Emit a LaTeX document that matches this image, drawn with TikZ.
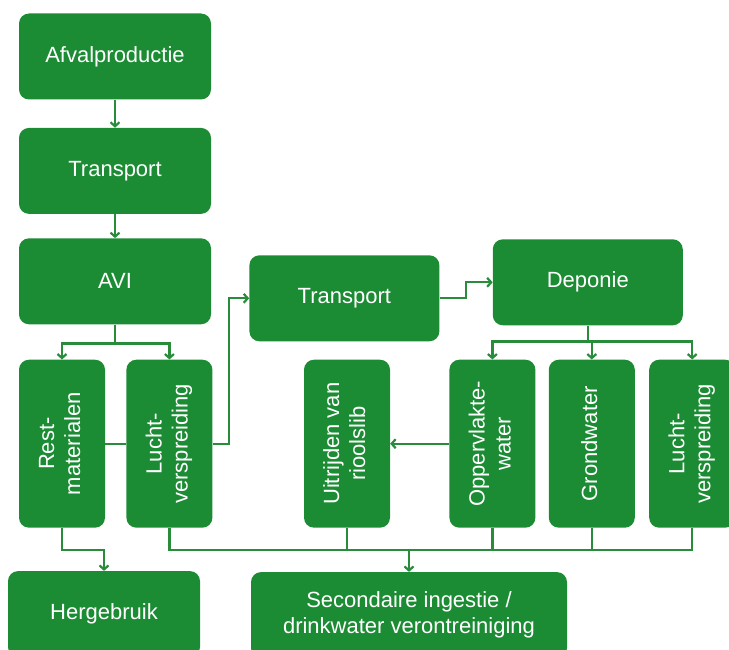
\documentclass[tikz,border=0pt]{standalone}
\usepackage{fontspec}
\setmainfont{Liberation Sans}
\usepackage{graphicx}
\usepackage{tikz}
\usetikzlibrary{positioning}
\usetikzlibrary{arrows.meta}
\definecolor{afvalgroen}{RGB}{28,140,52}
\definecolor{lijngroen}{RGB}{40,140,58}
\newcommand{\vtekst}[1]{\rotatebox{90}{\begin{tabular}{@{}c@{}}#1\end{tabular}}}

\begin{document}
\begin{tikzpicture}[x=1pt, y=-1pt,
    blok/.style={fill=afvalgroen, rounded corners=10pt, text=white, inner sep=0pt, align=center,
        font=\fontsize{22}{26}\selectfont},
    stap/.style={blok, minimum width=192pt, minimum height=86pt},
    zuil/.style={blok, minimum width=86pt, minimum height=168pt},
    lijn/.style={draw=lijngroen, line width=2.2pt},
    pijl/.style={lijn, -{Straight Barb[length=4pt, width=9pt]}}]
    \useasboundingbox (0,0) rectangle (729,650);
    \node[stap] (afval) at (115,56.5) {Afvalproductie};
     \node[stap, below=28pt of afval] (trans1) {Transport};
    \node[stap, below=24pt of trans1] (avi) {AVI};
      \node[zuil, below right=35pt and 0pt of avi.south west] (rest) {\vtekst{Rest-\\materialen}};
      \node[zuil, right=21pt of rest] (lucht1) {\vtekst{Lucht-\\verspreiding}};
      \node[stap, below right=43pt and -11pt of rest.south west] (herge) {Hergebruik};
    \node[stap, minimum width=190pt, below right=17pt and 38pt of avi.north east] (trans2) {Transport};
    \node[stap, minimum width=190pt, right=53pt of trans2, yshift=16pt] (depo) {Deponie};
      \node[zuil, below=34pt of depo, xshift=4pt] (grond) {\vtekst{Grondwater}};
      \node[zuil, left=13pt of grond] (opp) {\vtekst{Oppervlakte-\\water}};
      \node[zuil, right=14pt of grond] (lucht2) {\vtekst{Lucht-\\verspreiding}};
      \node[zuil, left=59pt of opp] (uitr) {\vtekst{Uitrijden van\\rioolslib}};
    \node[stap, minimum width=316pt, below right=44pt and -53pt of uitr.south west] (sec) {Secondaire ingestie /\\drinkwater verontreiniging};

      \draw[pijl] (afval) -- (trans1);
      \draw[pijl] (trans1) -- (avi);
      \draw[pijl] (avi.south) -- ++(0,19) -| (rest.north);
      \draw[pijl] (avi.south) -- ++(0,19) -| (lucht1.north);
      \draw[lijn] (rest.east) -- (lucht1.west);
      \draw[pijl] (lucht1.east) -- ++(16,0) |- (trans2.west);
      \draw[pijl] (trans2.east) -- ++(26,0) |- (depo.west);
      \draw[pijl] (depo.south) -- ++(0,16) -| (opp.north);
      \draw[pijl] (depo.south) -- ++(0,16) -| (lucht2.north);
      \draw[pijl] (depo.south) -- ++(0,16) -| (grond.north);
      \draw[pijl] (opp.west) -- (uitr.east);
      \draw[pijl] (rest.south) -- ++(0,22) -| (herge.north);
    \coordinate (bus) at ([yshift=-22pt]lucht1.south);
      \draw[lijn] (lucht1.south) -- (bus) -| (lucht2.south);
      \draw[lijn] (uitr.south) -- (uitr.south |- bus);
      \draw[lijn] (opp.south) -- (opp.south |- bus);
      \draw[lijn] (grond.south) -- (grond.south |- bus);
      \draw[pijl] (sec.north |- bus) -- (sec.north);
\end{tikzpicture}
\end{document}
